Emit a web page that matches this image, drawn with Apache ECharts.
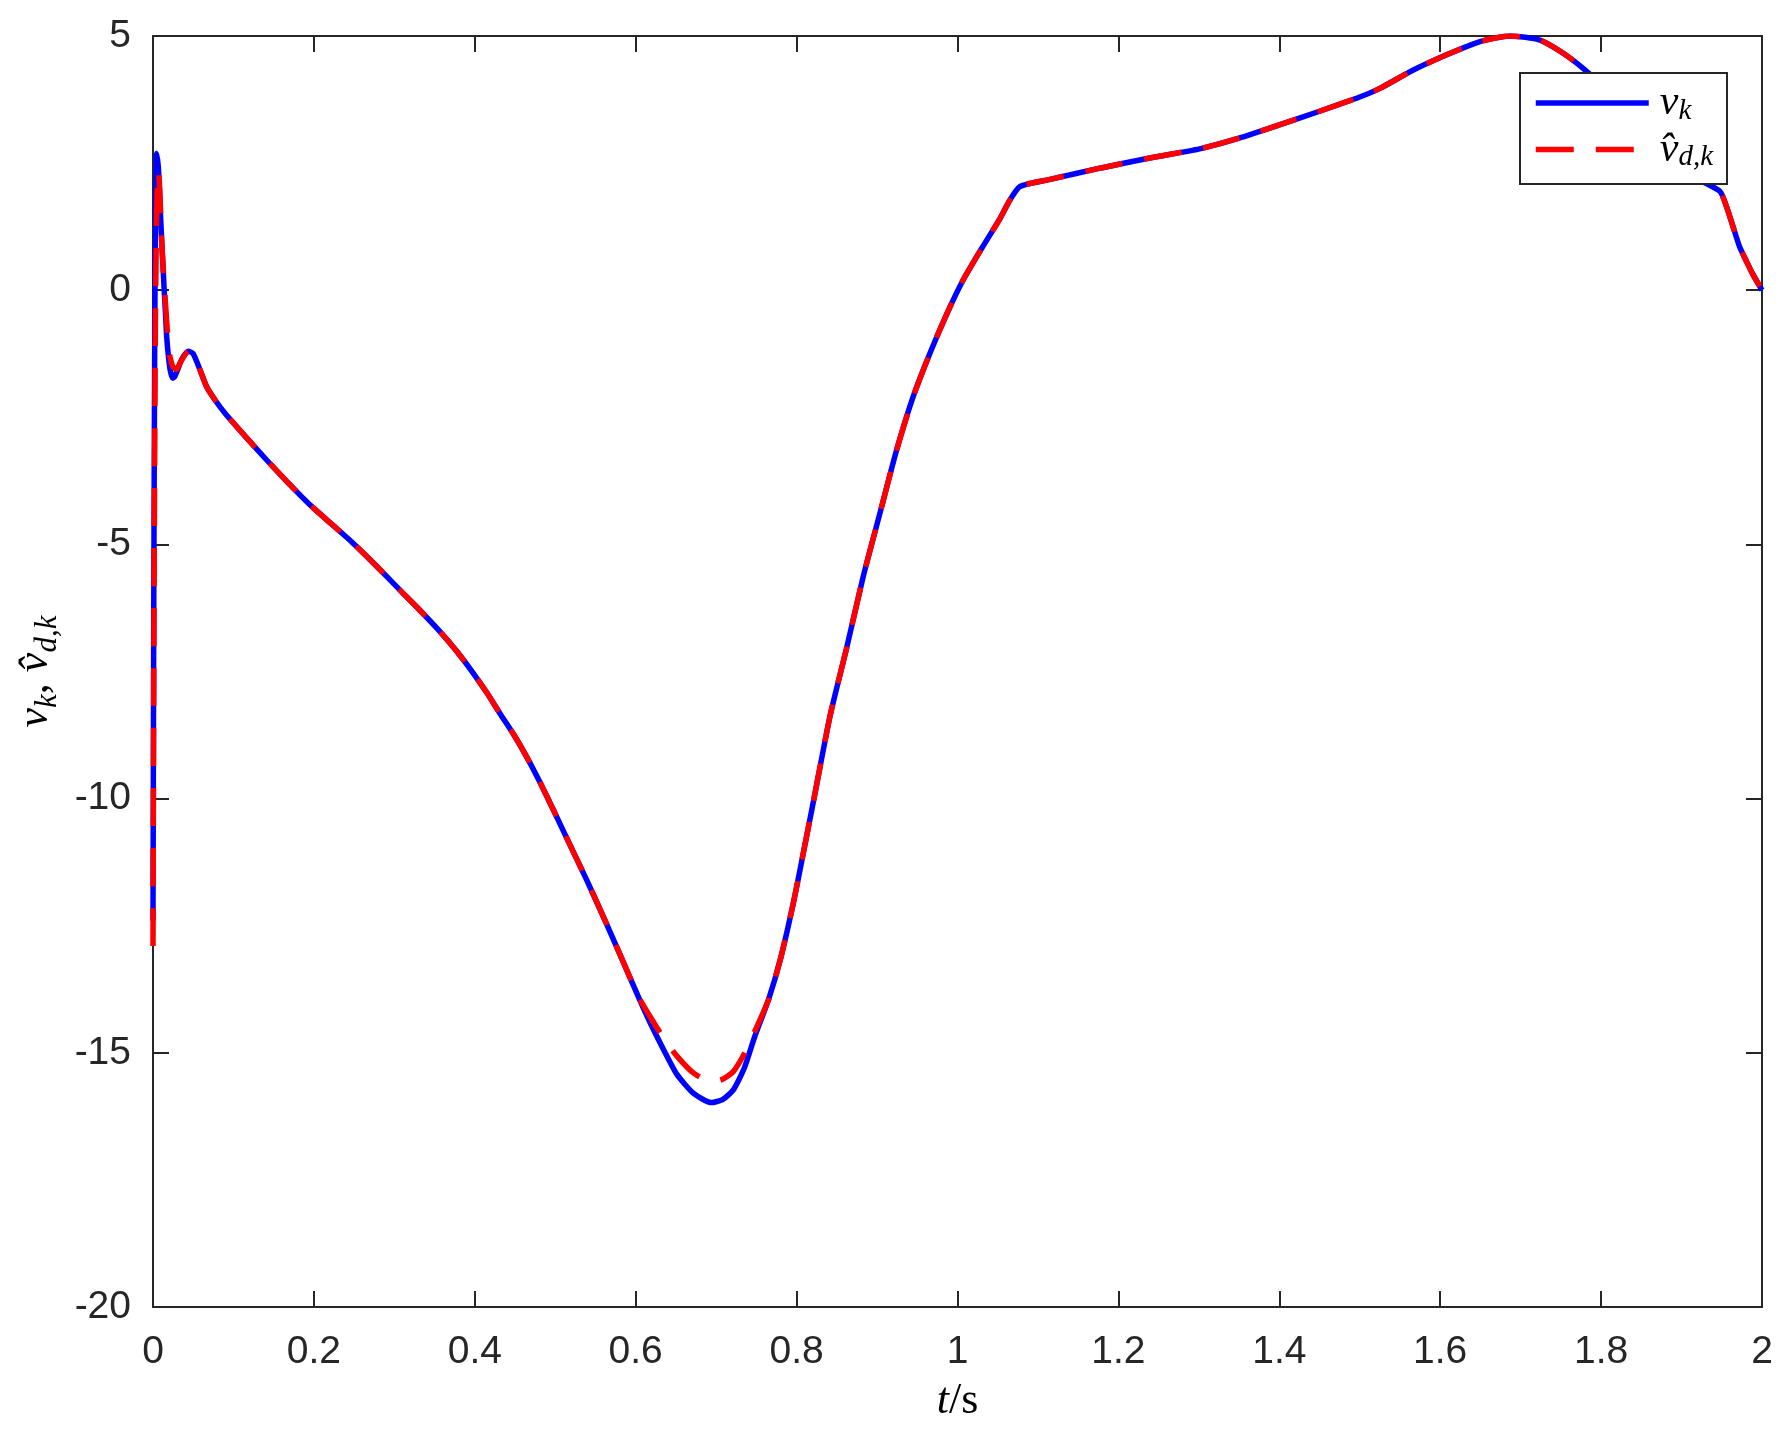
<!DOCTYPE html>
<html>
<head>
<meta charset="utf-8">
<script src="https://cdn.jsdelivr.net/npm/echarts@6/dist/echarts.min.js"></script>
<style>
  html, body { margin: 0; padding: 0; background: #fff; }
  #chart { width: 1791px; height: 1441px; }
</style>
</head>
<body>
<div id="chart"></div>
<script>
// early spike, sampled separately for each series
const tEarlyK = [0, 0.001, 0.002, 0.003, 0.0046, 0.0065, 0.008, 0.0096, 0.0117, 0.0137, 0.0155, 0.017, 0.0195, 0.022, 0.0245, 0.027, 0.031, 0.036, 0.0439];
const vEarlyK = [-12.4, -6.0, -1.5, 1.2, 2.69, 2.45, 2.0, 1.38, 0.7, 0.07, -0.45, -0.91, -1.35, -1.62, -1.73, -1.70, -1.55, -1.35, -1.20];
const tEarlyD = [0, 0.001, 0.002, 0.003, 0.0045, 0.0057, 0.0066, 0.0078, 0.0093, 0.0108, 0.013, 0.0153, 0.0178, 0.0203, 0.0245, 0.0294, 0.034, 0.0439];
const vEarlyD = [-12.9, -7.5, -3.5, -0.6, 1.5, 2.2, 2.35, 2.15, 1.6, 0.95, 0.35, -0.21, -0.78, -1.24, -1.50, -1.56, -1.42, -1.20];

// rest of the curve, shared time grid
const tMain = [0.05, 0.058, 0.0667, 0.078, 0.0895, 0.115, 0.1413, 0.168, 0.195, 0.222, 0.249, 0.278, 0.307, 0.332, 0.357, 0.378, 0.398, 0.415, 0.431, 0.448, 0.4645, 0.481, 0.4976, 0.518, 0.539, 0.56, 0.58, 0.605, 0.618, 0.635, 0.651, 0.672, 0.694, 0.708, 0.7213, 0.735, 0.748, 0.765, 0.78, 0.796, 0.808, 0.821, 0.8415, 0.862, 0.883, 0.9037, 0.9244, 0.945, 0.966, 0.9866, 1.007, 1.03, 1.0528, 1.065, 1.0777, 1.115, 1.177, 1.239, 1.301, 1.35, 1.4, 1.45, 1.5, 1.525, 1.5666, 1.608, 1.6495, 1.687, 1.724, 1.753, 1.778, 1.8, 1.83, 1.86, 1.89, 1.923, 1.948, 1.956, 1.964, 1.972, 1.98, 1.988, 2.0];
const vMainK = [-1.25, -1.55, -1.90, -2.18, -2.42, -2.88, -3.34, -3.79, -4.22, -4.60, -4.98, -5.43, -5.90, -6.30, -6.72, -7.11, -7.53, -7.92, -8.32, -8.73, -9.18, -9.68, -10.22, -10.90, -11.60, -12.33, -13.05, -13.96, -14.41, -14.95, -15.42, -15.80, -15.98, -15.92, -15.73, -15.30, -14.68, -13.96, -13.15, -12.05, -11.1, -10.05, -8.38, -7.05, -5.62, -4.38, -3.14, -2.09, -1.23, -0.47, 0.20, 0.82, 1.41, 1.77, 2.04, 2.18, 2.40, 2.60, 2.78, 2.99, 3.25, 3.52, 3.80, 3.97, 4.33, 4.63, 4.89, 5.0, 4.92, 4.66, 4.36, 4.05, 3.6, 3.1, 2.65, 2.17, 1.94, 1.64, 1.25, 0.86, 0.59, 0.33, 0.0];
const vMainD = [-1.25, -1.55, -1.90, -2.18, -2.42, -2.88, -3.34, -3.79, -4.22, -4.60, -4.98, -5.43, -5.90, -6.30, -6.72, -7.11, -7.53, -7.92, -8.32, -8.73, -9.18, -9.68, -10.22, -10.90, -11.60, -12.33, -13.05, -13.94, -14.29, -14.72, -15.06, -15.40, -15.57, -15.52, -15.37, -15.02, -14.58, -13.96, -13.15, -12.05, -11.1, -10.05, -8.38, -7.05, -5.62, -4.38, -3.14, -2.09, -1.23, -0.47, 0.20, 0.82, 1.41, 1.77, 2.04, 2.18, 2.40, 2.60, 2.78, 2.99, 3.25, 3.52, 3.80, 3.97, 4.33, 4.63, 4.89, 5.0, 4.92, 4.66, 4.36, 4.05, 3.6, 3.1, 2.65, 2.17, 1.94, 1.64, 1.25, 0.86, 0.59, 0.33, 0.0];

const xTicks = { min: 0, max: 2, interval: 0.2 };
const yTicks = { min: -20, max: 5, interval: 5 };

function pairs(t, v) {
    const out = [];
    for (let i = 0; i < t.length; i++) {
        out.push([t[i], v[i]]);
    }
    return out;
}

const dataK = pairs(tEarlyK, vEarlyK).concat(pairs(tMain, vMainK));
const dataD = pairs(tEarlyD, vEarlyD).concat(pairs(tMain, vMainD));

const AXIS = '#262626';
const serif = "'Liberation Serif', 'DejaVu Serif', serif";

const mathRich = {
    i: { fontFamily: serif, fontStyle: 'italic', fontSize: 44, lineHeight: 48, color: '#000' },
    r: { fontFamily: serif, fontSize: 44, lineHeight: 48, color: '#000' },
    s: { fontFamily: serif, fontStyle: 'italic', fontSize: 31, padding: [24, 0, 0, 0], color: '#000' }
};

const legendRich = {
    i: { fontFamily: serif, fontStyle: 'italic', fontSize: 42, lineHeight: 40, padding: [0, 0, 0, 6], color: '#000' },
    s: { fontFamily: serif, fontStyle: 'italic', fontSize: 29, padding: [16, 0, 0, 0], color: '#000' }
};

function frameAxis(extra) {
    return Object.assign({
        type: 'value',
        axisLine: { show: true, onZero: false, lineStyle: { color: AXIS, width: 2 } },
        axisTick: { show: true, inside: true, length: 16, lineStyle: { color: AXIS, width: 2 } },
        splitLine: { show: false },
        axisLabel: { show: false }
    }, extra);
}

const chart = echarts.init(document.getElementById('chart'));

chart.setOption({
    animation: false,
    backgroundColor: '#fff',
    grid: { left: 153, right: 29, top: 36, bottom: 134, containLabel: false },
    legend: {
        orient: 'vertical',
        left: 1520,
        top: 73,
        padding: [9, 14, 12, 13],
        itemGap: 3,
        itemWidth: 113,
        itemHeight: 14,
        backgroundColor: '#fff',
        borderColor: AXIS,
        borderWidth: 2,
        borderRadius: 0,
        itemStyle: { opacity: 0, borderWidth: 0 },
        lineStyle: { width: 5.5 },
        data: ['vk', 'vdk'],
        formatter(name) {
            return name === 'vk' ? '{i|v}{s|k}' : '{i|v\u0302}{s|d,k}';
        },
        textStyle: { rich: legendRich }
    },
    xAxis: [
        frameAxis({
            position: 'bottom',
            min: xTicks.min,
            max: xTicks.max,
            interval: xTicks.interval,
            axisLabel: {
                show: true,
                margin: 26,
                fontFamily: "'Liberation Sans', Arial, sans-serif",
                fontSize: 39,
                color: AXIS
            },
            name: '{i|t}{r|/s}',
            nameLocation: 'middle',
            nameGap: 70,
            nameTextStyle: { rich: mathRich }
        }),
        frameAxis({
            position: 'top',
            min: xTicks.min,
            max: xTicks.max,
            interval: xTicks.interval
        })
    ],
    yAxis: [
        frameAxis({
            position: 'left',
            min: yTicks.min,
            max: yTicks.max,
            interval: yTicks.interval,
            axisLabel: {
                show: true,
                margin: 22,
                fontFamily: "'Liberation Sans', Arial, sans-serif",
                fontSize: 39,
                color: AXIS
            },
            name: '{i|v}{s|k}{r|, }{i|v\u0302}{s|d,k}',
            nameLocation: 'middle',
            nameGap: 90,
            nameTextStyle: { rich: mathRich }
        }),
        frameAxis({
            position: 'right',
            min: yTicks.min,
            max: yTicks.max,
            interval: yTicks.interval
        })
    ],
    series: [
        {
            name: 'vk',
            type: 'line',
            data: dataK,
            showSymbol: false,
            symbol: 'none',
            smooth: 0.2,
            lineStyle: { color: '#0000ff', width: 5.5 },
            itemStyle: { color: '#0000ff' },
            z: 2
        },
        {
            name: 'vdk',
            type: 'line',
            data: dataD,
            showSymbol: false,
            symbol: 'none',
            smooth: 0.2,
            lineStyle: { color: '#ff0000', width: 5.5, type: [38, 22] },
            itemStyle: { color: '#ff0000' },
            z: 3
        }
    ]
});
</script>
</body>
</html>
